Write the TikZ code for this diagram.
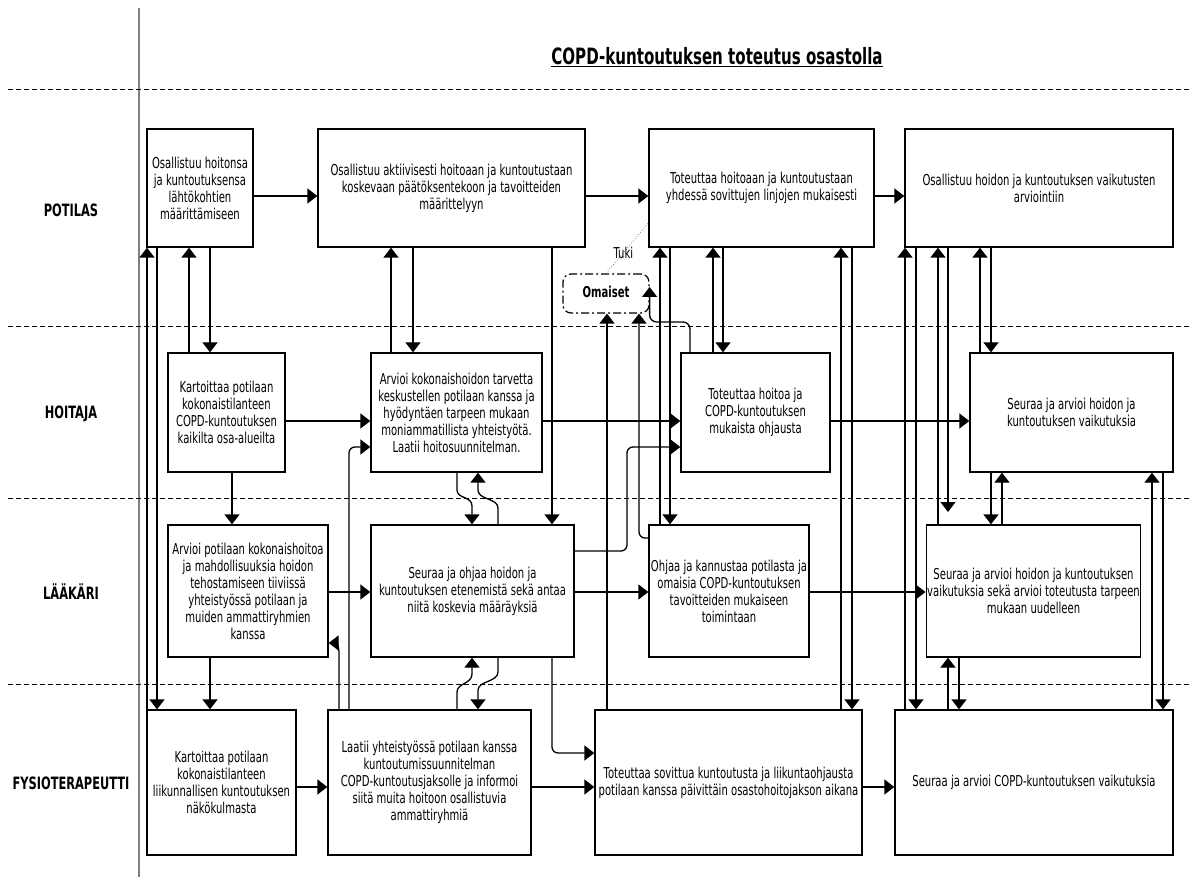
\documentclass[tikz,border=0pt]{standalone}
\usepackage{fontspec}
\setmainfont{DejaVu Sans}[FakeStretch=0.67]
\usetikzlibrary{arrows.meta}

\begin{document}
\begin{tikzpicture}[x=1pt,y=-1pt,
  box/.style={draw, line width=1.3pt, align=center, inner sep=1pt,
    font=\fontsize{15}{17}\selectfont},
  lane/.style={font=\fontsize{17}{19}\selectfont\bfseries},
  arr/.style={line width=1.3pt, -{Triangle[length=10pt,width=15pt]}},
  sep/.style={dash pattern=on 5pt off 3pt, line width=1pt},
]
\useasboundingbox (0,0) rectangle (1192,877);

% swimlane frame
\draw[line width=1.5pt, gray] (139,8) -- (139,877);
\foreach \yy in {90,327,498,684}
  \draw[sep] (8,\yy) -- (1192,\yy);

\node[font=\fontsize{22.5}{25}\selectfont\bfseries] (title) at (717,57)
  {\underline{COPD-kuntoutuksen toteutus osastolla}};

\node[lane] (lP) at (71,210) {POTILAS};
\node[lane] (lH) at (71,414) {HOITAJA};
\node[lane] (lL) at (71,592) {LÄÄKÄRI};
\node[lane] (lF) at (71,783) {FYSIOTERAPEUTTI};

% POTILAS
\node[box, minimum width=106pt, minimum height=118pt] (P1) at (200,188)
  {Osallistuu hoitonsa\\ja kuntoutuksensa\\lähtökohtien\\määrittämiseen};
\node[box, minimum width=267pt, minimum height=118pt] (P2) at (451.5,188)
  {Osallistuu aktiivisesti hoitoaan ja kuntoutustaan\\koskevaan päätöksentekoon ja tavoitteiden\\määrittelyyn};
\node[box, minimum width=225pt, minimum height=118pt] (P3) at (761.5,188)
  {Toteuttaa hoitoaan ja kuntoutustaan\\yhdessä sovittujen linjojen mukaisesti};
\node[box, minimum width=268pt, minimum height=118pt] (P4) at (1039,188)
  {Osallistuu hoidon ja kuntoutuksen vaikutusten\\arviointiin};
\node[draw, line width=1.2pt, rounded corners=8pt,
  dash pattern=on 8pt off 3pt on 2pt off 3pt,
  minimum width=86pt, minimum height=39pt, text depth=4pt,
  font=\fontsize{15}{17}\selectfont\bfseries] (Om) at (606,293.5) {Omaiset};

% HOITAJA
\node[box, minimum width=117pt, minimum height=119pt] (H1) at (226.5,412.5)
  {Kartoittaa potilaan\\kokonaistilanteen\\COPD-kuntoutuksen\\kaikilta osa-alueilta};
\node[box, minimum width=171pt, minimum height=119pt] (H2) at (456.5,412.5)
  {Arvioi kokonaishoidon tarvetta\\keskustellen potilaan kanssa ja\\hyödyntäen tarpeen mukaan\\moniammatillista yhteistyötä.\\Laatii hoitosuunnitelman.};
\node[box, minimum width=149pt, minimum height=119pt] (H3) at (755.5,412.5)
  {Toteuttaa hoitoa ja\\COPD-kuntoutuksen\\mukaista ohjausta};
\node[box, minimum width=203pt, minimum height=119pt] (H4) at (1071.5,412.5)
  {Seuraa ja arvioi hoidon ja\\kuntoutuksen vaikutuksia};

% LÄÄKÄRI
\node[box, minimum width=160pt, minimum height=132pt] (L1) at (248,591)
  {Arvioi potilaan kokonaishoitoa\\ja mahdollisuuksia hoidon\\tehostamiseen tiiviissä\\yhteistyössä potilaan ja\\muiden ammattiryhmien\\kanssa};
\node[box, minimum width=203pt, minimum height=132pt] (L2) at (472.5,591)
  {Seuraa ja ohjaa hoidon ja\\kuntoutuksen etenemistä sekä antaa\\niitä koskevia määräyksiä};
\node[box, minimum width=160pt, minimum height=132pt] (L3) at (729,591)
  {Ohjaa ja kannustaa potilasta ja\\omaisia COPD-kuntoutuksen\\tavoitteiden mukaiseen\\toimintaan};
\node[box, minimum width=213pt, minimum height=132pt] (L4) at (1033.5,591)
  {Seuraa ja arvioi hoidon ja kuntoutuksen\\vaikutuksia sekä arvioi toteutusta tarpeen\\mukaan uudelleen};

% FYSIOTERAPEUTTI
\node[box, minimum width=149pt, minimum height=145pt] (F1) at (221.5,782.5)
  {Kartoittaa potilaan\\kokonaistilanteen\\liikunnallisen kuntoutuksen\\näkökulmasta};
\node[box, minimum width=203pt, minimum height=145pt] (F2) at (429.5,782.5)
  {Laatii yhteistyössä potilaan kanssa\\kuntoutumissuunnitelman\\COPD-kuntoutusjaksolle ja informoi\\siitä muita hoitoon osallistuvia\\ammattiryhmiä};
\node[box, minimum width=267pt, minimum height=145pt] (F3) at (728.5,782.5)
  {Toteuttaa sovittua kuntoutusta ja liikuntaohjausta\\potilaan kanssa päivittäin osastohoitojakson aikana};
\node[box, minimum width=278pt, minimum height=145pt] (F4) at (1034,782.5)
  {Seuraa ja arvioi COPD-kuntoutuksen vaikutuksia};

\coordinate (p4end) at (948,512);

% support link from relatives
\draw[gray, dotted, line width=0.8pt] (Om.north -| 606,0) -- (P3.west |- 0,223)
  node[pos=0.41, text=black, font=\fontsize{15}{17}\selectfont] (tuki) {Tuki};

% horizontal flow inside lanes
\draw[arr] (P1.east |- 0,196) -- (P2.west |- 0,196);
\draw[arr] (P2.east |- 0,196) -- (P3.west |- 0,196);
\draw[arr] (P3.east |- 0,196) -- (P4.west |- 0,196);
\draw[arr] (H1.east |- 0,421) -- (H2.west |- 0,421);
\draw[arr] (H2.east |- 0,421) -- (H3.west |- 0,421);
\draw[arr] (H3.east |- 0,421) -- (H4.west |- 0,421);
\draw[arr] (L1.east |- 0,592) -- (L2.west |- 0,592);
\draw[arr] (L2.east |- 0,592) -- (L3.west |- 0,592);
\draw[arr] (L3.east |- 0,592) -- (L4.west |- 0,592);
\draw[arr] (F1.east |- 0,787) -- (F2.west |- 0,787);
\draw[arr] (F2.east |- 0,787) -- (F3.west |- 0,787);
\draw[arr] (F3.east |- 0,787) -- (F4.west |- 0,787);

% first column
\draw[arr] (F1.north -| 147,0) -- (P1.south -| 147,0);
\draw[arr] (P1.south -| 157,0) -- (F1.north -| 157,0);
\draw[arr] (H1.north -| 189,0) -- (P1.south -| 189,0);
\draw[arr] (P1.south -| 210,0) -- (H1.north -| 210,0);
\draw[arr] (H1.south -| 232,0) -- (L1.north -| 232,0);
\draw[arr] (L1.south -| 210,0) -- (F1.north -| 210,0);

% second column
\draw[arr] (H2.north -| 391,0) -- (P2.south -| 391,0);
\draw[arr] (P2.south -| 413,0) -- (H2.north -| 413,0);
\draw[arr] (P2.south -| 552,0) -- (L2.north -| 552,0);
\draw[arr, rounded corners=6pt] (F2.north -| 349,0) |- (H2.west |- 0,447);
\draw[arr] (F2.north -| 339,0) -- (339,652) .. controls (339,646) and (336,643) .. (L1.east |- 0,643);
\draw[arr] (H2.south -| 457,0) -- (457,490) .. controls (457,499) and (472,496) .. (472,506) -- (L2.north -| 472,0);
\draw[arr] (L2.north -| 498,0) -- (498,508) .. controls (498,498) and (478,500) .. (478,490) -- (H2.south -| 478,0);
\draw[arr] (F2.north -| 457,0) -- (457,692) .. controls (457,683) and (472,684) .. (472,674) -- (L2.south -| 472,0);
\draw[arr] (L2.south -| 498,0) -- (498,672) .. controls (498,682) and (478,681) .. (478,690) -- (F2.north -| 478,0);
\draw[arr, rounded corners=6pt] (L2.south -| 552,0) |- (F3.west |- 0,753);
\draw[arr, rounded corners=6pt] (L2.east |- 0,551) -| (627,500) |- (H3.west |- 0,447);

% third column
\draw[arr] (F3.north -| 607,0) -- (Om.south -| 607,0);
\draw[arr, rounded corners=6pt] (L3.west |- 0,538) -| (Om.south -| 639,0);
\draw[arr, rounded corners=7pt] (H3.north -| 690,0) |- (Om.east |- 0,322) -- (Om.east |- 0,287);
\draw[arr] (L3.north -| 660,0) -- (P3.south -| 660,0);
\draw[arr] (P3.south -| 670,0) -- (L3.north -| 670,0);
\draw[arr] (H3.north -| 713,0) -- (P3.south -| 713,0);
\draw[arr] (P3.south -| 723,0) -- (H3.north -| 723,0);
\draw[arr] (F3.north -| 841,0) -- (P3.south -| 841,0);
\draw[arr] (P3.south -| 852,0) -- (F3.north -| 852,0);

% fourth column
\draw[arr] (F4.north -| 905,0) -- (P4.south -| 905,0);
\draw[arr] (P4.south -| 916,0) -- (F4.north -| 916,0);
\draw[arr] (L4.north -| 938,0) -- (P4.south -| 938,0);
\draw[arr] (P4.south -| 948,0) -- (p4end);
\draw[arr] (H4.north -| 980,0) -- (P4.south -| 980,0);
\draw[arr] (P4.south -| 991,0) -- (H4.north -| 991,0);
\draw[arr] (H4.south -| 991,0) -- (L4.north -| 991,0);
\draw[arr] (L4.north -| 1002,0) -- (H4.south -| 1002,0);
\draw[arr] (F4.north -| 948,0) -- (L4.south -| 948,0);
\draw[arr] (L4.south -| 959,0) -- (F4.north -| 959,0);
\draw[arr] (F4.north -| 1152,0) -- (H4.south -| 1152,0);
\draw[arr] (H4.south -| 1163,0) -- (F4.north -| 1163,0);
\end{tikzpicture}
\end{document}
